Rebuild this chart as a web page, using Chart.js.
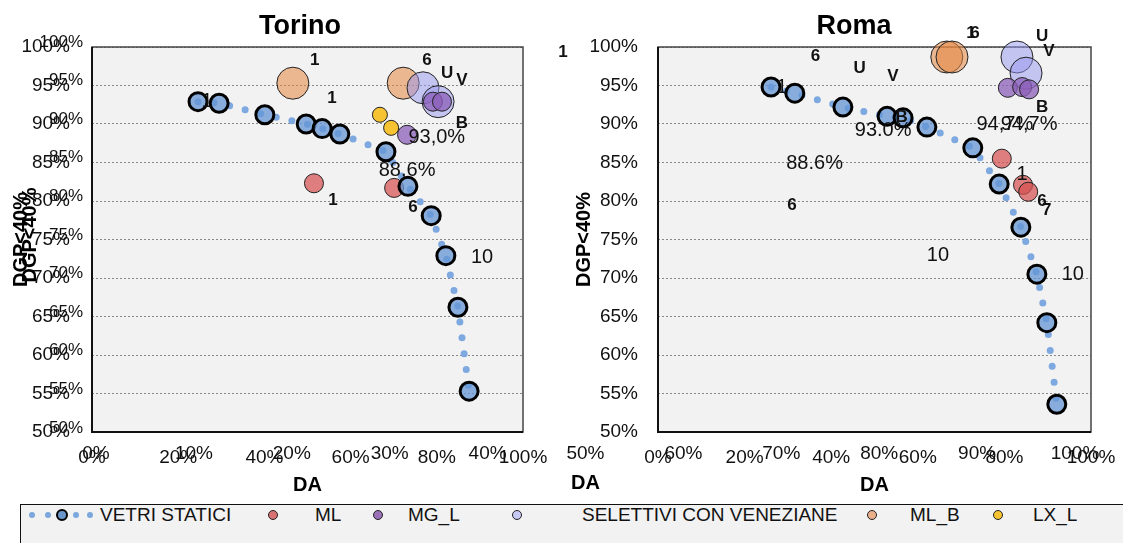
<!DOCTYPE html>
<html>
<head>
<meta charset="utf-8">
<script src="https://cdn.jsdelivr.net/npm/chart.js@4"></script>
<style>
  body { margin: 0; width: 1123px; height: 543px; overflow: hidden; background: #fff; position: relative;
         font-family: "Liberation Sans", Arial, sans-serif; }
  canvas { position: absolute; top: 0; }
  #torino { left: 0; }
  #roma { left: 570px; }
  #ghost { left: 0; pointer-events: none; }
  #legend { position: absolute; left: 20px; top: 504px; width: 1120px; height: 45px;
            border: 1.5px solid #111; background: #f2f2f2; }
  .lg-text { position: absolute; top: 504px; font-size: 19px; line-height: 22px; color: #111; white-space: nowrap; }
  .lg-dot { position: absolute; border-radius: 50%; box-sizing: border-box; }
</style>
</head>
<body>
<canvas id="torino" width="600" height="500"></canvas>
<canvas id="roma" width="568" height="500"></canvas>
<canvas id="ghost" width="1123" height="500"></canvas>
<div id="legend"></div>
<script>
// ---- data (DA %, DGP<40% %) ----
const seriesNames = ["VETRI STATICI", "ML", "MG_L", "SELETTIVI CON VENEZIANE", "ML_B", "LX_L"];

// Torino
const torVetriDA  = [24.6, 29.5, 40.1, 49.7, 53.4, 57.5, 68.2, 73.3, 78.7, 82.1, 84.9, 87.5];
const torVetriDGP = [92.9, 92.7, 91.2, 90.0, 89.4, 88.7, 86.4, 81.9, 78.1, 72.9, 66.2, 55.3];
const torMlDA  = [51.5, 70.1];
const torMlDGP = [82.3, 81.7];
const torMgDA  = [73.1, 79.1, 81.2];
const torMgDGP = [88.6, 92.9, 92.9];
const torSelDA  = [76.8, 80.3];
const torSelDGP = [94.7, 92.9];
const torMlbDA  = [46.6, 72.2];
const torMlbDGP = [95.3, 95.3];
const torLxDA  = [66.8, 69.4];
const torLxDGP = [91.2, 89.5];

// Roma
const romVetriDA  = [26.1, 31.6, 42.7, 52.9, 56.6, 62.1, 72.7, 78.8, 83.8, 87.5, 89.8, 92.1];
const romVetriDGP = [94.8, 94.0, 92.2, 91.0, 90.8, 89.6, 86.9, 82.2, 76.6, 70.5, 64.2, 53.6];
const romMlDA  = [79.4, 84.3, 85.5];
const romMlDGP = [85.5, 82.1, 81.2];
const romMgDA  = [80.8, 84.1, 85.7];
const romMgDGP = [94.7, 94.8, 94.5];
const romSelDA  = [82.9, 85.0];
const romSelDGP = [98.7, 96.6];
const romMlbDA  = [66.7, 67.9];
const romMlbDGP = [98.7, 98.7];

// text labels [DA, DGP, text, bold]
const torLabels = [
  [26.7, 92.9, "1", false], [51.7, 98.3, "1", true], [55.7, 93.4, "1", true],
  [77.7, 98.3, "6", true], [82.4, 96.6, "U", true], [85.8, 95.7, "V", true],
  [85.8, 90.1, "B", true], [80.0, 88.3, "93,0%", false], [73.1, 84.0, "88,6%", false],
  [55.9, 80.1, "1", true], [74.5, 79.2, "6", true], [90.5, 72.7, "10", false]
];
const romLabels = [
  [28.6, 94.8, "1", false], [72.3, 101.8, "1", true], [73.2, 101.8, "6", true],
  [88.7, 101.4, "U", true], [90.3, 99.5, "V", true], [88.7, 92.2, "B", true],
  [80.1, 90.0, "94,7%", false], [85.7, 90.0, "94,7%", false],
  [84.1, 83.4, "1", false], [88.7, 79.9, "6", true], [89.8, 78.8, "7", true],
  [95.8, 70.4, "10", false]
];
const ghostLabels = [
  [47.7, 98.6, "1", true], [73.5, 98.1, "6", true], [78.0, 96.6, "U", true],
  [81.4, 95.6, "V", true], [82.3, 90.2, "B", true], [80.4, 88.6, "93.0%", false],
  [73.4, 84.3, "88.6%", false], [71.1, 78.8, "6", true], [86.0, 72.4, "10", false]
];

// ---- styles ----
const FONT = '"Liberation Sans", Arial, sans-serif';
Chart.defaults.font.family = FONT;
Chart.defaults.color = "#111";

const fills = ["rgba(100,150,212,0.75)", "rgba(214,80,80,0.72)", "rgba(140,95,185,0.75)",
               "rgba(150,150,240,0.5)", "rgba(230,135,65,0.55)", "rgba(246,190,30,0.9)"];
const legendFills = ["#6a96cc", "#d97272", "#9b72b8", "#c8c8f5", "#e9b08a", "#f7c431"];
const radii = { vetri: 9, ml: 9.5, mg: 9.5, sel: 16, mlb: 16, lx: 7.5 };

const pts = (xs, ys) => xs.map((x, i) => ({ x: x, y: ys[i] }));
const pct = v => v + "%";

function vetriSet(xs, ys) {
  return {
    label: seriesNames[0], data: pts(xs, ys), showLine: true,
    borderColor: "rgba(118,163,222,0.95)", borderWidth: 7, borderDash: [0, 16], borderCapStyle: "round",
    pointRadius: radii.vetri, pointHoverRadius: radii.vetri,
    pointBackgroundColor: fills[0], pointBorderColor: "#000", pointBorderWidth: 3, clip: false
  };
}
function bubbleSet(k, xs, ys, r) {
  return {
    label: seriesNames[k], data: pts(xs, ys), showLine: false,
    pointRadius: r, pointHoverRadius: r, backgroundColor: fills[k],
    borderColor: "#222", borderWidth: 1, clip: false
  };
}

// ---- plugins ----
const plotFrame = {
  id: "plotFrame",
  beforeDraw(chart, args, opts) {
    if (!opts.on) return;
    const { ctx, chartArea: a } = chart;
    ctx.save();
    ctx.fillStyle = "#f2f2f2";
    ctx.fillRect(a.left, a.top, a.width, a.height);
    ctx.restore();
  },
  beforeDatasetsDraw(chart, args, opts) {
    if (!opts.on) return;
    const { ctx, chartArea: a } = chart;
    ctx.save();
    ctx.strokeStyle = "#444";
    ctx.lineWidth = 1.5;
    ctx.strokeRect(a.left, a.top, a.width, a.height);
    ctx.strokeStyle = "#111";
    ctx.lineWidth = 2;
    ctx.beginPath();
    ctx.moveTo(a.left, a.top);
    ctx.lineTo(a.left, a.bottom);
    ctx.lineTo(a.right, a.bottom);
    ctx.stroke();
    ctx.restore();
  }
};

const textLabels = {
  id: "textLabels",
  afterDatasetsDraw(chart, args, opts) {
    const { ctx, scales: { x, y } } = chart;
    ctx.save();
    ctx.fillStyle = "#111";
    ctx.textAlign = "center";
    ctx.textBaseline = "middle";
    (opts.items || []).forEach(([vx, vy, text, bold]) => {
      ctx.font = (bold ? "bold 17px " : "20px ") + FONT;
      ctx.fillText(text, x.getPixelForValue(vx), y.getPixelForValue(vy));
    });
    ctx.restore();
  }
};

// ---- charts ----
function panel(id, title, datasets, labels, L) {
  return new Chart(document.getElementById(id), {
    type: "scatter",
    data: { datasets: datasets },
    options: {
      responsive: false,
      animation: false,
      layout: { padding: 0 },
      plugins: {
        legend: { display: false },
        tooltip: { enabled: false },
        title: { display: true, text: title, color: "#000",
                 font: { size: 27, weight: "bold" }, padding: { top: 10, bottom: 4.6 } },
        plotFrame: { on: true },
        textLabels: { items: labels }
      },
      scales: {
        x: {
          type: "linear", min: 0, max: 100,
          ticks: { stepSize: 20, callback: pct, font: { size: 19 }, padding: 14, maxRotation: 0 },
          grid: { display: false, drawTicks: false },
          border: { display: false },
          title: { display: true, text: "DA", color: "#000", font: { size: 20, weight: "bold" },
                   padding: { top: 0, bottom: 3 } },
          afterFit: s => { s.height = 68; }
        },
        y: {
          type: "linear", min: 50, max: 100,
          ticks: { stepSize: 5, callback: pct, font: { size: 19 }, padding: L.yPad },
          grid: { color: "#8a8a8a", lineWidth: 1, drawTicks: false },
          border: { display: false, dash: [2, 2] },
          title: { display: true, text: "DGP<40%", color: "#000", font: { size: 20, weight: "bold" },
                   padding: { top: L.yTitlePad, bottom: 0 } },
          afterFit: s => { s.width = L.yWidth; }
        },
        // empty right-hand axis: keeps the title centred on the whole panel
        yRight: {
          type: "linear", position: "right", min: 50, max: 100,
          ticks: { display: false },
          grid: { display: false, drawTicks: false },
          border: { display: false },
          afterFit: s => { s.width = L.padRight; }
        }
      }
    },
    plugins: [plotFrame, textLabels]
  });
}

panel("torino", "Torino", [
  vetriSet(torVetriDA, torVetriDGP),
  bubbleSet(1, torMlDA, torMlDGP, radii.ml),
  bubbleSet(2, torMgDA, torMgDGP, radii.mg),
  bubbleSet(3, torSelDA, torSelDGP, radii.sel),
  bubbleSet(4, torMlbDA, torMlbDGP, radii.mlb),
  bubbleSet(5, torLxDA, torLxDGP, radii.lx)
], torLabels, { padRight: 77, yWidth: 92, yPad: 22, yTitlePad: 9 });

panel("roma", "Roma", [
  vetriSet(romVetriDA, romVetriDGP),
  bubbleSet(1, romMlDA, romMlDGP, radii.ml),
  bubbleSet(2, romMgDA, romMgDGP, radii.mg),
  bubbleSet(3, romSelDA, romSelDGP, radii.sel),
  bubbleSet(4, romMlbDA, romMlbDGP, radii.mlb)
], romLabels, { padRight: 47, yWidth: 88, yPad: 20, yTitlePad: 2 });

// secondary axes spanning both panels
new Chart(document.getElementById("ghost"), {
  type: "scatter",
  data: { datasets: [] },
  options: {
    responsive: false,
    animation: false,
    layout: { padding: { left: 0, right: 48, top: 42, bottom: 0 } },
    plugins: {
      legend: { display: false },
      tooltip: { enabled: false },
      plotFrame: { on: false },
      textLabels: { items: ghostLabels }
    },
    scales: {
      x: {
        type: "linear", min: 0, max: 100,
        ticks: { stepSize: 10, callback: pct, font: { size: 19 }, padding: 14, maxRotation: 0 },
        grid: { display: false, drawTicks: false },
        border: { display: false },
        title: { display: true, text: "DA", color: "#000", font: { size: 20, weight: "bold" },
                 padding: { top: 0, bottom: 5 } },
        afterFit: s => { s.height = 72; }
      },
      y: {
        type: "linear", min: 50, max: 100,
        ticks: { stepSize: 5, callback: pct, font: { size: 17 }, padding: 13 },
        grid: { display: false, drawTicks: false },
        border: { display: false },
        title: { display: true, text: "DGP<40%", color: "#000", font: { size: 20, weight: "bold" },
                 padding: { top: 18, bottom: 0 } },
        afterFit: s => { s.width = 96; }
      }
    }
  },
  plugins: [plotFrame, textLabels]
});

// ---- legend ----
const legendTextX = [100, 315, 408, 582, 910, 1033];
const legendDotX = [62, 273, 378, 517, 872, 998];
const legendY = 515;

function addDot(cx, d, fill, border) {
  const el = document.createElement("div");
  el.className = "lg-dot";
  el.style.left = (cx - d / 2) + "px";
  el.style.top = (legendY - d / 2) + "px";
  el.style.width = d + "px";
  el.style.height = d + "px";
  el.style.background = fill;
  el.style.border = border;
  document.body.appendChild(el);
}
[32, 48, 76, 90].forEach(cx => addDot(cx, 6, "#7ba7dc", "none"));
seriesNames.forEach((name, i) => {
  if (i === 0) addDot(legendDotX[0], 12, legendFills[0], "2.5px solid #000");
  else addDot(legendDotX[i], 10, legendFills[i], "1.5px solid #222");
  const t = document.createElement("div");
  t.className = "lg-text";
  t.style.left = legendTextX[i] + "px";
  t.textContent = name;
  document.body.appendChild(t);
});
</script>
</body>
</html>
